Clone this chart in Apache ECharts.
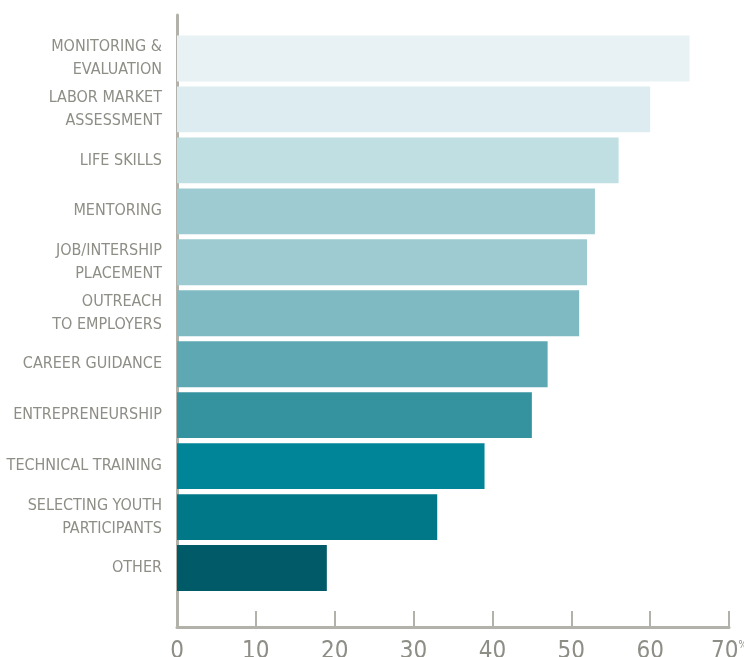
<!DOCTYPE html>
<html>
<head>
<meta charset="utf-8">
<script src="https://cdn.jsdelivr.net/npm/echarts@6/dist/echarts.min.js"></script>
<style>
  html, body { margin: 0; padding: 0; background: #ffffff; }
  #chart { width: 744px; height: 657px; }
</style>
</head>
<body>
<div id="chart"></div>
<script>
// Program components, listed top to bottom
const categories = [
  'MONITORING &\nEVALUATION',
  'LABOR MARKET\nASSESSMENT',
  'LIFE SKILLS',
  'MENTORING',
  'JOB/INTERSHIP\nPLACEMENT',
  'OUTREACH\nTO EMPLOYERS',
  'CAREER GUIDANCE',
  'ENTREPRENEURSHIP',
  'TECHNICAL TRAINING',
  'SELECTING YOUTH\nPARTICIPANTS',
  'OTHER'
];
// Share of programs (%)
const values = [65, 60, 56, 53, 52, 51, 47, 45, 39, 33, 19];
const barColors = [
  '#e8f2f4', '#dcecf0', '#bfdfe2', '#9ecbd2', '#9ecbd2', '#7fbac3',
  '#5ea8b3', '#3593a0', '#008598', '#007887', '#005a68'
];
const tickValues = [0, 10, 20, 30, 40, 50, 60, 70];

const FONT = '"Liberation Sans Narrow", "DejaVu Sans Condensed", "Roboto", sans-serif';
const GREY_TEXT = '#8e8d86';
const GREY_LINE = '#b3b2aa';

const chart = echarts.init(document.getElementById('chart'), null, { renderer: 'canvas' });

chart.setOption({
  animation: false,
  grid: [
    // bars
    { left: 177, right: 15, top: 33, bottom: 63.5, outerBoundsMode: 'none', containLabel: false },
    // frame: axis lines, ticks, tick labels
    { left: 177, right: 15, top: 15, bottom: 30, outerBoundsMode: 'none', containLabel: false }
  ],
  xAxis: [
    { type: 'value', gridIndex: 0, min: 0, max: 70, interval: 10, show: false },
    {
      type: 'value', gridIndex: 1, min: 0, max: 70, interval: 10,
      axisLine: { show: true, lineStyle: { color: GREY_LINE, width: 3 } },
      axisTick: { show: true, inside: true, length: 16, lineStyle: { color: GREY_LINE, width: 2 } },
      splitLine: { show: false },
      axisLabel: {
        margin: 13,
        color: GREY_TEXT,
        fontFamily: FONT,
        fontSize: 24,
        formatter: function (v) { return v === 70 ? '{n|70}{p|%}' : String(v); },
        rich: {
          n: { fontFamily: FONT, fontSize: 24, color: GREY_TEXT },
          p: { fontFamily: FONT, fontSize: 10, color: GREY_TEXT, verticalAlign: 'top', padding: [0, 0, 14, 0] }
        }
      }
    }
  ],
  yAxis: [
    {
      type: 'category', gridIndex: 0, inverse: true, data: categories,
      axisLine: { show: false },
      axisTick: { show: false },
      axisLabel: {
        margin: 15,
        color: GREY_TEXT,
        fontFamily: FONT,
        fontSize: 16,
        lineHeight: 23,
        align: 'right'
      }
    },
    {
      type: 'value', gridIndex: 1, min: 0, max: 1,
      axisLine: { show: true, lineStyle: { color: GREY_LINE, width: 3 } },
      axisTick: { show: false },
      axisLabel: { show: false },
      splitLine: { show: false }
    }
  ],
  series: [{
    type: 'bar',
    xAxisIndex: 0,
    yAxisIndex: 0,
    barCategoryGap: '10%',
    data: values.map((v, i) => ({ value: v, itemStyle: { color: barColors[i] } }))
  }]
});
</script>
</body>
</html>
